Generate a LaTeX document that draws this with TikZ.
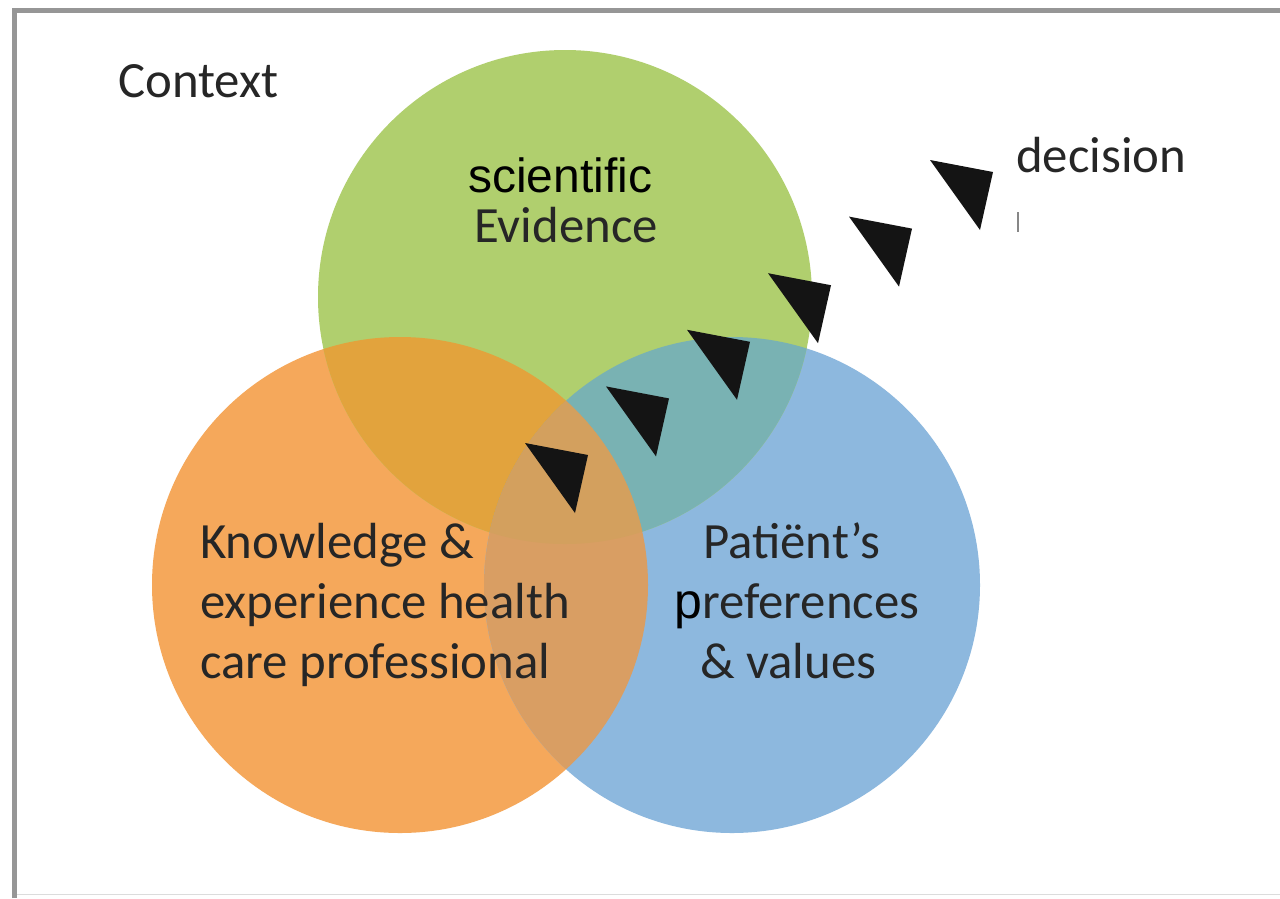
\documentclass[tikz,border=0pt]{standalone}
\usepackage{fontspec}
\setmainfont{Carlito}
\newfontfamily\arialf{Liberation Sans}
\definecolor{frameg}{HTML}{969696}
\definecolor{framel}{HTML}{DCDCDC}
\definecolor{cgreen}{HTML}{B0CF6E}
\definecolor{corange}{HTML}{F5A85B}
\definecolor{cblue}{HTML}{8DB8DE}
\definecolor{cgo}{HTML}{E2A33D}
\definecolor{cgb}{HTML}{79B2B3}
\definecolor{cob}{HTML}{D99E63}
\definecolor{call}{HTML}{D3A05E}
\definecolor{txt}{HTML}{262626}
\tikzset{
  label/.style={inner sep=0pt, text=txt, font=\fontsize{50.8}{60}\selectfont},
  pointer/.style={fill=black!92},
}
\begin{document}
\begin{tikzpicture}[x=1pt,y=-1pt]
\useasboundingbox (0,0) rectangle (1280,898);
\fill[white] (0,0) rectangle (1280,898);

% frame
\draw[line width=5pt, frameg, line join=miter] (14.5,898) -- (14.5,10) -- (1280,10);
\draw[line width=1.5pt, framel] (17,894.5) -- (1280,894.5);

% the three circles
\coordinate (cg) at (565,297);
\coordinate (co) at (400,585);
\coordinate (cb) at (732,585);
\def\rg{247}
\def\ro{248}
\def\rb{248}
\fill[corange] (co) circle (\ro);
\fill[cblue] (cb) circle (\rb);
\fill[cgreen] (cg) circle (\rg);
% pairwise overlaps
\begin{scope}
  \clip (cg) circle (\rg);
  \fill[cgo] (co) circle (\ro);
  \fill[cgb] (cb) circle (\rb);
\end{scope}
\begin{scope}
  \clip (co) circle (\ro);
  \fill[cob] (cb) circle (\rb);
  \clip (cb) circle (\rb);
  \fill[call] (cg) circle (\rg);
\end{scope}

% labels
\node[label, anchor=base west] (context) at (118,97) {Context};
\node[inner sep=0pt, anchor=base west, font=\arialf\fontsize{48}{56}\selectfont] (sci) at (468,192) {scientific};
\node[label, anchor=base west] (evid) at (474,242) {Evidence};
\node[label, anchor=base west] (dec) at (1016,172) {decision};
\draw[line width=2.5pt, frameg!90!black] (1018,212) -- (1018,232);

\node[label, anchor=base west] (k1) at (200,558) {Knowledge \&};
\node[label, anchor=base west] (k2) at (200,618) {experience health};
\node[label, anchor=base west] (k3) at (200,678) {care professional};

\node[label, anchor=base west] (p1) at (703,558) {Pati\"ent’s};
\node[inner sep=0pt, anchor=base west, font=\arialf\fontsize{50}{56}\selectfont] (p2a) at (674,618) {p};
\node[label, anchor=base west] (p2b) at (p2a.base east) {references};
\node[label, anchor=base west] (p3) at (700,678) {\& values};

% pointers
\foreach \i in {0,...,5}
  \fill[pointer, shift={(\i*81,-\i*56.6)}] (525,443) -- (588,455) -- (575,513) -- cycle;
\end{tikzpicture}
\end{document}
